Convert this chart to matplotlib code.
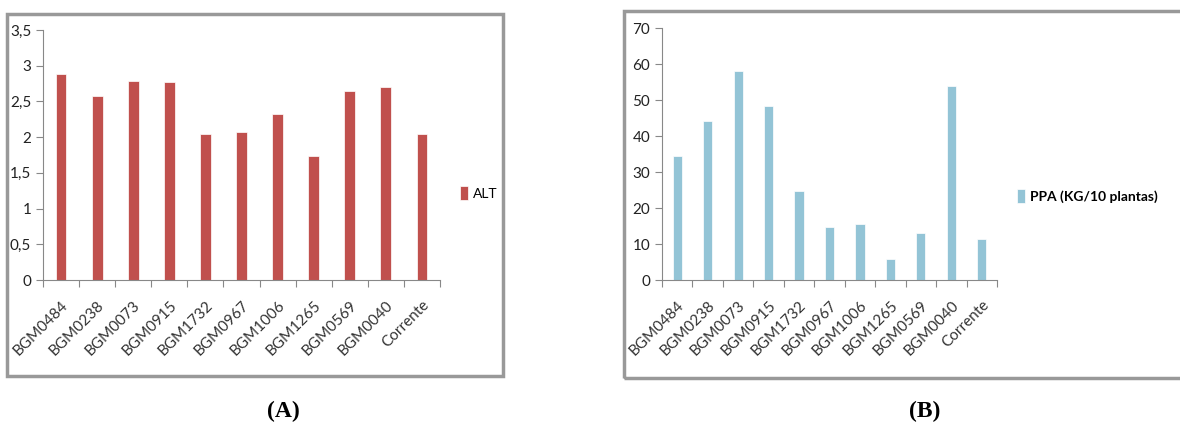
import matplotlib.pyplot as plt
import matplotlib.ticker as mticker
from matplotlib.patches import Rectangle

# Data
genotipos = ["BGM0484", "BGM0238", "BGM0073", "BGM0915", "BGM1732", "BGM0967",
             "BGM1006", "BGM1265", "BGM0569", "BGM0040", "Corrente"]
alt = [2.89, 2.57, 2.79, 2.77, 2.04, 2.07, 2.33, 1.73, 2.64, 2.70, 2.05]
ppa = [34.5, 44.2, 58.1, 48.4, 24.8, 14.8, 15.5, 5.8, 13.0, 53.8, 11.5]

plt.rcParams['font.family'] = ['Lato', 'DejaVu Sans']

W, H = 1180, 425
fig = plt.figure(figsize=(W / 100, H / 100), dpi=100)


def frac(x0, y0, x1, y1):
    # pixel box -> figure fraction [left, bottom, width, height]
    return [x0 / W, 1 - y1 / H, (x1 - x0) / W, (y1 - y0) / H]


# Gray frames around each chart
for box in [(7, 14, 503, 376), (624, 11, 1190, 378)]:
    l, b, w, h = frac(*box)
    fig.patches.append(Rectangle((l, b), w, h, transform=fig.transFigure,
                                 fill=False, edgecolor="#999999", linewidth=2.5))


def bar_panel(pos, values, color, ymax, step, legend_label, legend_xy, fmt, lw):
    ax = fig.add_axes(pos)
    x = list(range(len(genotipos)))
    ax.bar(x, values, width=0.3, color=color, edgecolor="white", linewidth=0.5,
           label=legend_label)
    ax.set_xlim(-0.5, len(genotipos) - 0.5)
    ax.set_ylim(0, ymax)
    ax.yaxis.set_major_locator(mticker.MultipleLocator(step))
    ax.yaxis.set_major_formatter(mticker.FuncFormatter(fmt))
    ax.set_xticks([i - 0.5 for i in range(len(genotipos) + 1)])
    ax.set_xticklabels([])
    ax.set_xticks(x, minor=True)
    ax.set_xticklabels(genotipos, minor=True, rotation=45, ha="right",
                       rotation_mode="anchor", fontsize=11, color="#333333")
    ax.tick_params(axis="x", which="minor", length=0, pad=13)
    ax.tick_params(axis="x", which="major", length=5, color="#888888", direction="out")
    ax.tick_params(axis="y", length=5, color="#888888", labelsize=11, labelcolor="#222222")
    for s in ["top", "right"]:
        ax.spines[s].set_visible(False)
    for s in ["left", "bottom"]:
        ax.spines[s].set_color("#888888")
    ax.legend(loc="center left", bbox_to_anchor=legend_xy,
              bbox_transform=fig.transFigure, frameon=False,
              prop={"size": 10, "weight": lw}, handlelength=0.6, handleheight=1.2,
              handletextpad=0.3, borderaxespad=0, borderpad=0)
    return ax


bar_panel(frac(43, 30, 440, 280), alt, "#c0504d", 3.5, 0.5, "ALT",
          (460 / W, 1 - 193 / H),
          lambda v, p: f"{v:g}".replace(".", ","), "normal")
bar_panel(frac(662, 28, 997, 280), ppa, "#93c4d6", 70, 10, "PPA (KG/10 plantas)",
          (1017 / W, 1 - 196 / H),
          lambda v, p: f"{v:g}", "bold")

fig.text(283 / W, 1 - 411 / H, "(A)", ha="center", va="center", fontsize=17,
         fontweight="bold", family="Liberation Serif")
fig.text(925 / W, 1 - 411 / H, "(B)", ha="center", va="center", fontsize=17,
         fontweight="bold", family="Liberation Serif")

fig.savefig("out.png", dpi=100, facecolor="white")
